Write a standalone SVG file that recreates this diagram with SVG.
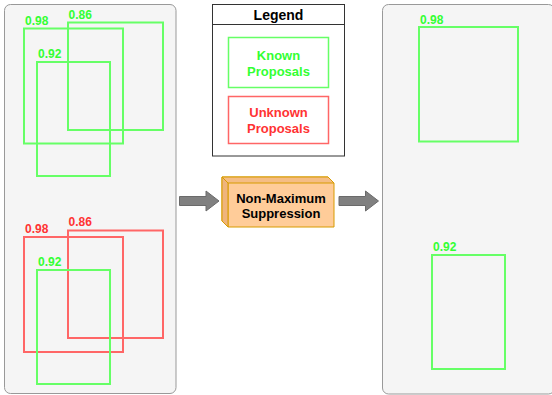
<svg xmlns="http://www.w3.org/2000/svg" width="552" height="395" viewBox="0 0 552 395">
<style>
.panel{fill:#f5f5f5;stroke:#999999;stroke-width:1}
.g{fill:none;stroke:#66ff66;stroke-width:2}
.r{fill:none;stroke:#ff6666;stroke-width:2}
.gt{fill:#33ff33;font-family:"Liberation Sans",Arial,sans-serif;font-weight:bold;font-size:12px}
.rt{fill:#ff3333;font-family:"Liberation Sans",Arial,sans-serif;font-weight:bold;font-size:12px}
.lt{font-family:"Liberation Sans",Arial,sans-serif;font-weight:bold;font-size:13px;text-anchor:middle}
.arrow{fill:#808080;stroke:#6a6a6a;stroke-width:1}
</style>
<rect width="552" height="395" fill="#ffffff"/>
<g id="left-panel">
<rect class="panel" x="4.5" y="4.5" width="171.5" height="389" rx="6"/>
<rect class="g" x="24" y="28.5" width="99" height="115"/>
<rect class="g" x="68" y="22.5" width="95" height="107.5"/>
<rect class="g" x="37" y="62" width="73" height="114"/>
<text class="gt" x="25" y="25">0.98</text>
<text class="gt" x="68.5" y="18.5">0.86</text>
<text class="gt" x="38" y="57.5">0.92</text>
<rect class="r" x="24" y="237" width="99" height="115"/>
<rect class="r" x="68" y="230.5" width="95" height="107.5"/>
<rect class="g" x="37" y="270" width="73" height="114"/>
<text class="rt" x="25" y="233">0.98</text>
<text class="rt" x="68.5" y="226">0.86</text>
<text class="gt" x="38" y="266">0.92</text>
</g>
<g id="legend">
<rect x="212.5" y="4.5" width="132" height="151.5" fill="#ffffff" stroke="#333333" stroke-width="1"/>
<line x1="212.5" y1="24.5" x2="344.5" y2="24.5" stroke="#333333" stroke-width="1"/>
<text x="278.5" y="19.5" font-family="'Liberation Sans',Arial,sans-serif" font-weight="bold" font-size="14px" text-anchor="middle" fill="#000000">Legend</text>
<rect x="228.5" y="37.5" width="100" height="50" fill="#ffffff" stroke="#66ff66" stroke-width="1.5"/>
<text class="lt" x="278.5" y="59.5" fill="#33ff33">Known</text>
<text class="lt" x="278.5" y="75.5" fill="#33ff33">Proposals</text>
<rect x="228.5" y="96.5" width="100" height="47" fill="#ffffff" stroke="#ff6666" stroke-width="1.5"/>
<text class="lt" x="278.5" y="117" fill="#ff3333">Unknown</text>
<text class="lt" x="278.5" y="132.5" fill="#ff3333">Proposals</text>
</g>
<g id="nms">
<polygon points="222,177 328,177 334,183 334,227 228,227 222,221" fill="#ffcc99" stroke="#d79b00" stroke-width="1"/>
<line x1="228" y1="183" x2="228" y2="227" stroke="#d79b00" stroke-width="1"/>
<polygon points="222,177 328,177 334,183 228,183" fill="#f5bd85" stroke="#d79b00" stroke-width="1"/>
<polygon points="222,177 228,183 228,227 222,221" fill="#efb47c" stroke="#d79b00" stroke-width="1"/>
<text class="lt" x="281" y="202.5" fill="#000000">Non-Maximum</text>
<text class="lt" x="281" y="218" fill="#000000">Suppression</text>
</g>
<g id="connectors">
<polygon class="arrow" points="179.5,196.5 206,196.5 206,191 219,201 206,211 206,205.5 179.5,205.5"/>
<polygon class="arrow" points="339,196.5 365.5,196.5 365.5,191 378.5,201 365.5,211 365.5,205.5 339,205.5"/>
</g>
<g id="right-panel">
<rect class="panel" x="382.5" y="4.5" width="172" height="389.5" rx="6"/>
<rect class="g" x="419" y="27" width="99" height="114.5"/>
<text class="gt" x="420" y="24">0.98</text>
<rect class="g" x="432" y="255" width="73" height="114"/>
<text class="gt" x="433" y="251">0.92</text>
</g>
</svg>
